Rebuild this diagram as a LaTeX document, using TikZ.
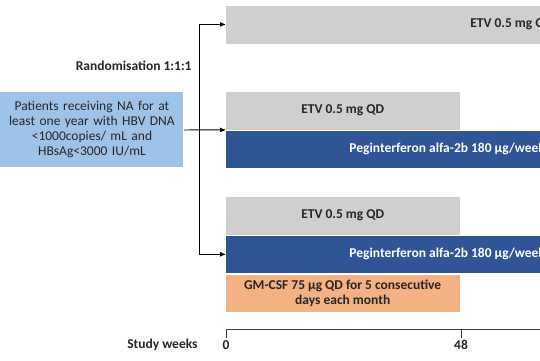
\documentclass[tikz,border=0pt]{standalone}
\usepackage{fontspec}
\setmainfont{Carlito}
\usetikzlibrary{arrows}
\usetikzlibrary{positioning}

\definecolor{etvgray}{RGB}{208,206,206}
\definecolor{pegblue}{RGB}{47,85,151}
\definecolor{ptblue}{RGB}{157,195,230}
\definecolor{gmorange}{RGB}{244,177,131}

\begin{document}
\begin{tikzpicture}[x=1pt,y=-1pt,>=stealth',line width=0.9pt,
			font=\fontsize{13.5}{15}\selectfont]
			\tikzstyle{bar}=[draw=white,line width=0.4pt,minimum height=38.5pt,inner sep=0pt,
			font=\fontsize{13.5}{15}\selectfont\bfseries]
			\tikzstyle{etv}=[bar,fill=etvgray,text=black!85]
			\tikzstyle{peg}=[bar,fill=pegblue,text=white]
			\tikzstyle{gm}=[bar,fill=gmorange,text=black!85,align=center]
			\tikzstyle{label}=[inner sep=0pt,font=\fontsize{13.5}{15}\selectfont\bfseries,text=black!85]
			
			\clip (0,0) rectangle (540,360);
			
			\node[fill=ptblue,minimum width=183pt,minimum height=75pt,text width=175pt,
			align=center,inner sep=0pt,anchor=north west,text=black!85]
			(patients) at (0,92) {Patients receiving NA for at\\least one year with HBV DNA\\<1000copies/ mL and\\HBsAg<3000 IU/mL};
			\node[label,anchor=east] (rand) at (192,66) {Randomisation 1:1:1};
			
			\node[etv,minimum width=573pt,anchor=north west] (etv_1) at (225,5) {ETV 0.5 mg QD};
			
			\node[etv,minimum width=235pt,anchor=north west] (etv_2) at (225,91) {ETV 0.5 mg QD};
			\node[peg,minimum width=444pt] (peg_2) [below=0pt of etv_2.south west,anchor=north west] {Peginterferon alfa-2b 180 µg/week};
			
			\node[etv,minimum width=235pt,anchor=north west] (etv_3) at (225,196) {ETV 0.5 mg QD};
			\node[peg,minimum width=444pt] (peg_3) [below=0pt of etv_3.south west,anchor=north west] {Peginterferon alfa-2b 180 µg/week};
			\node[gm,minimum width=235pt] (gm_3) [below=0pt of peg_3.south west,anchor=north west] {GM-CSF 75 µg QD for 5 consecutive\\days each month};
			
			\coordinate (split) at (199,130);
			\draw[->] (patients.east) -- (etv_2.south west);
			\draw[->] (split) |- (etv_1.west);
			\draw[->] (split) |- (peg_3.west);
			
			\coordinate (w_0) at (226,329);
			\coordinate (w_48) at (461,329);
			\draw[black!75,line width=0.8pt] ([yshift=-9pt]w_0) -- (w_0) -- (560,329);
			\draw[black!75,line width=0.8pt] (w_48) -- ([yshift=-9pt]w_48);
			\node[label,anchor=north] (lab_0) at (226,340) {0};
			\node[label,anchor=north] (lab_48) at (461,340) {48};
			\node[label,anchor=east] (weeks) at (198,345) {Study weeks};
			\end{tikzpicture}
\end{document}
